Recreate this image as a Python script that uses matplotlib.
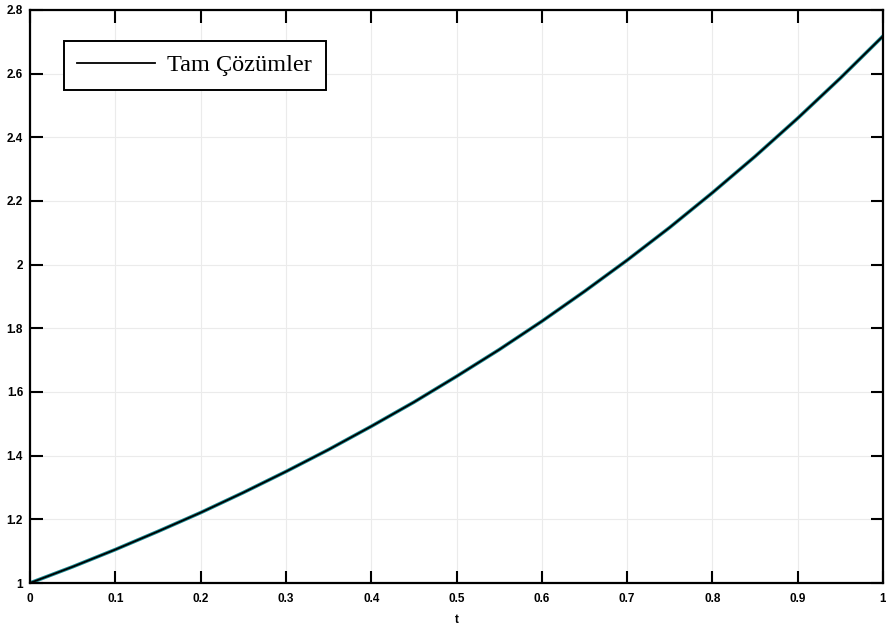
import matplotlib
matplotlib.use("Agg")
import matplotlib.pyplot as plt
import numpy as np

# values
t = [0.0, 0.05, 0.1, 0.15, 0.2, 0.25, 0.3, 0.35, 0.4, 0.45, 0.5,
     0.55, 0.6, 0.65, 0.7, 0.75, 0.8, 0.85, 0.9, 0.95, 1.0]
yExact = [1.0, 1.051, 1.105, 1.162, 1.221, 1.284, 1.350, 1.419, 1.492, 1.568, 1.649,
          1.733, 1.822, 1.916, 2.014, 2.117, 2.226, 2.340, 2.460, 2.586, 2.718]
xTicks = [0, 0.1, 0.2, 0.3, 0.4, 0.5, 0.6, 0.7, 0.8, 0.9, 1]
xTickLabels = ["0", "0.1", "0.2", "0.3", "0.4", "0.5", "0.6", "0.7", "0.8", "0.9", "1"]
yTicks = [1, 1.2, 1.4, 1.6, 1.8, 2, 2.2, 2.4, 2.6, 2.8]
yTickLabels = ["1", "1.2", "1.4", "1.6", "1.8", "2", "2.2", "2.4", "2.6", "2.8"]
legendLabel = "Tam Çözümler"

fig = plt.figure(figsize=(8.86, 6.31), dpi=100)
ax = fig.add_axes([30 / 886, 48 / 631, 853 / 886, 573 / 631])

ax.plot(t, yExact, color="#1a8a92", linewidth=2.6, solid_capstyle="round")
ax.plot(t, yExact, color="black", linewidth=1.3, label=legendLabel)

ax.set_xlim(0, 1)
ax.set_ylim(1, 2.8)
ax.set_xticks(xTicks)
ax.set_xticklabels(xTickLabels)
ax.set_yticks(yTicks)
ax.set_yticklabels(yTickLabels)

ax.grid(True, color="#ebebeb", linewidth=0.8)
ax.tick_params(direction="in", length=9, width=1.5, top=True, right=True,
               labelsize=8.5)
ax.tick_params(axis="x", pad=7.5)
ax.tick_params(axis="y", pad=5)
for lab in ax.get_xticklabels() + ax.get_yticklabels():
    lab.set_fontfamily("Liberation Sans")
    lab.set_fontweight("bold")
for s in ax.spines.values():
    s.set_linewidth(1.6)

ax.set_xlabel("t", fontfamily="Liberation Sans", fontweight="bold",
              fontsize=8.5, labelpad=6)

leg = ax.legend(loc="upper left", bbox_to_anchor=(0.04, 0.946), borderaxespad=0,
                prop={"family": "Liberation Serif", "size": 17.5},
                fancybox=False, framealpha=1, edgecolor="black",
                handlelength=3.2, handletextpad=0.5, borderpad=0.55)
leg.get_frame().set_linewidth(1.4)

fig.savefig("out.png", dpi=100)
